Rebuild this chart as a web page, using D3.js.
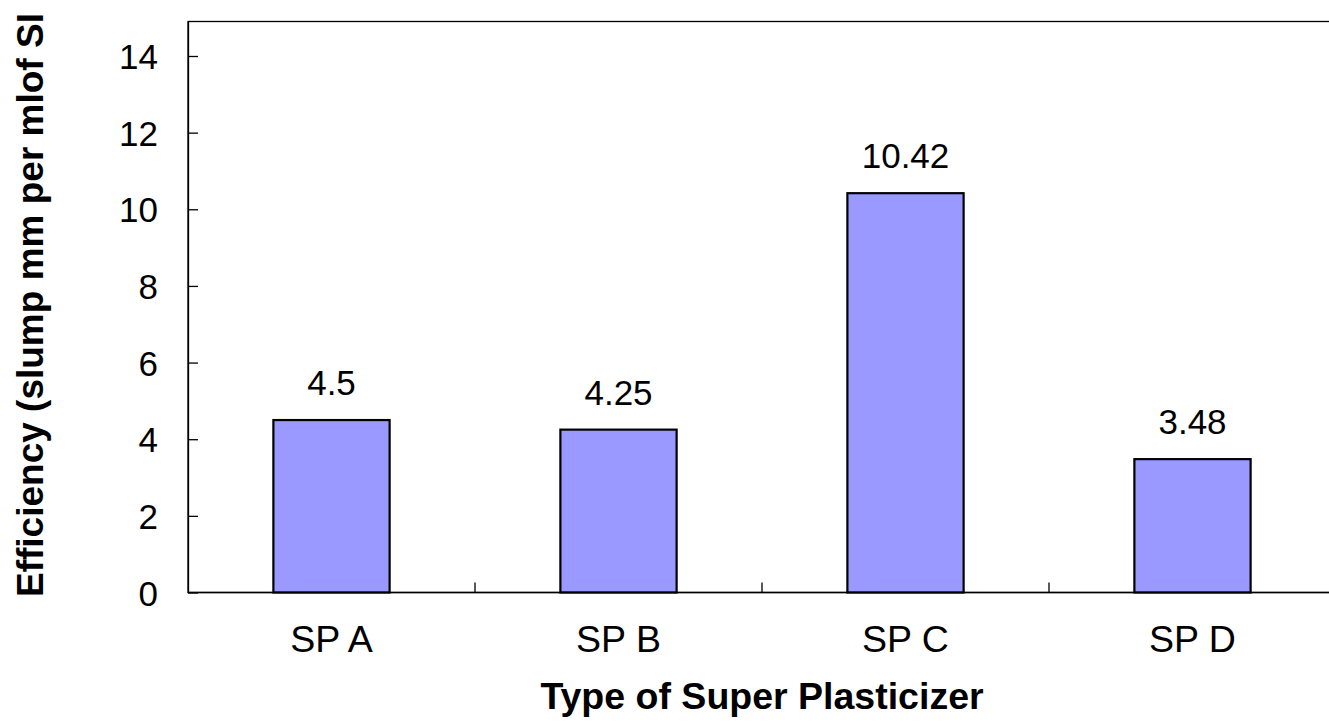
<!DOCTYPE html>
<html>
<head>
<meta charset="utf-8">
<script src="https://cdn.jsdelivr.net/npm/d3@7"></script>
<style>
  html, body { margin: 0; padding: 0; background: #fff; overflow: hidden; }
  svg { display: block; }
  text { font-family: "Liberation Sans", Arial, sans-serif; fill: #000; }
</style>
</head>
<body>
<svg id="chart" width="1329" height="723"></svg>
<script>
// Superplasticizer efficiency data
const categories = ["SP A", "SP B", "SP C", "SP D"];
const efficiency = [4.5, 4.25, 10.42, 3.48];
const valueLabels = ["4.5", "4.25", "10.42", "3.48"];
const yTicks = [0, 2, 4, 6, 8, 10, 12, 14];

const margin = { left: 188, top: 21.5, bottom: 592.5, right: 1336 };
const numFont = 35, catFont = 37.5, titleFont = 37.5;

const svg = d3.select("#chart");

const x = d3.scaleBand()
  .domain(categories)
  .range([margin.left, margin.right])
  .paddingInner(0.595)
  .paddingOuter(0.2975);

const y = d3.scaleLinear()
  .domain([0, 14.9])
  .range([margin.bottom, margin.top]);

// Plot frame (right edge falls outside the canvas)
svg.append("rect")
  .attr("x", margin.left)
  .attr("y", margin.top)
  .attr("width", margin.right - margin.left)
  .attr("height", margin.bottom - margin.top)
  .attr("fill", "none")
  .attr("stroke", "#000")
  .attr("stroke-width", 1.3);

// Bars
svg.append("g").selectAll("rect")
  .data(categories)
  .join("rect")
  .attr("x", d => x(d))
  .attr("y", (d, i) => y(efficiency[i]))
  .attr("width", x.bandwidth())
  .attr("height", (d, i) => y(0) - y(efficiency[i]))
  .attr("fill", "#9999FF")
  .attr("stroke", "#000")
  .attr("stroke-width", 2.2);

// Value labels
svg.append("g").selectAll("text")
  .data(categories)
  .join("text")
  .attr("x", d => x(d) + x.bandwidth() / 2)
  .attr("y", (d, i) => y(efficiency[i]) - 25)
  .attr("text-anchor", "middle")
  .attr("font-size", numFont)
  .text((d, i) => valueLabels[i]);

// Y axis (ticks point inward)
const yAxis = d3.axisLeft(y)
  .tickValues(yTicks)
  .tickSizeInner(-10)
  .tickSizeOuter(0)
  .tickPadding(30)
  .tickFormat(d3.format("d"));

const gy = svg.append("g")
  .attr("transform", `translate(${margin.left},0)`)
  .call(yAxis);
gy.select(".domain").attr("stroke", "#000").attr("stroke-width", 1.3);
gy.selectAll(".tick line").attr("stroke", "#000").attr("stroke-width", 1.3);
gy.selectAll(".tick text")
  .attr("font-size", numFont)
  .attr("font-family", "Liberation Sans, Arial, sans-serif")
  .attr("fill", "#000")
  .attr("dy", "0.36em");

// X axis: ticks between categories, pointing inward
const xEdges = d3.scaleLinear().domain([0, categories.length]).range([margin.left, margin.right]);
const gx = svg.append("g");
gx.append("line")
  .attr("x1", margin.left).attr("x2", margin.right)
  .attr("y1", margin.bottom).attr("y2", margin.bottom)
  .attr("stroke", "#000").attr("stroke-width", 1.3);
gx.selectAll("line.tk")
  .data(d3.range(1, categories.length))
  .join("line")
  .attr("class", "tk")
  .attr("x1", d => xEdges(d)).attr("x2", d => xEdges(d))
  .attr("y1", margin.bottom).attr("y2", margin.bottom - 10)
  .attr("stroke", "#000").attr("stroke-width", 1.3);
gx.selectAll("text")
  .data(categories)
  .join("text")
  .attr("x", d => x(d) + x.bandwidth() / 2)
  .attr("y", 652)
  .attr("text-anchor", "middle")
  .attr("font-size", catFont)
  .text(d => d);

// Axis titles
svg.append("text")
  .attr("x", (margin.left + margin.right) / 2)
  .attr("y", 709)
  .attr("text-anchor", "middle")
  .attr("font-size", titleFont)
  .attr("font-weight", "bold")
  .text("Type of Super Plasticizer");

svg.append("text")
  .attr("transform", "translate(43,597) rotate(-90)")
  .attr("text-anchor", "start")
  .attr("font-size", 37)
  .attr("font-weight", "bold")
  .text("Efficiency (slump mm per mlof SI");
</script>
</body>
</html>
